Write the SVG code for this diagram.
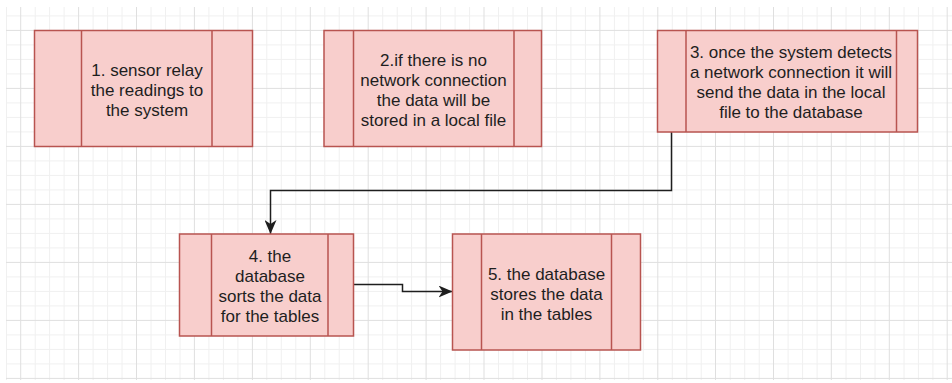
<svg xmlns="http://www.w3.org/2000/svg" width="952" height="383" viewBox="0 0 952 383">
  <style>
    .minor { stroke: #f0f0f0; stroke-width: 1; fill: none; }
    .major { stroke: #dfdfdf; stroke-width: 1; fill: none; }
    .proc { fill: #f8cecc; stroke: #b85450; stroke-width: 1.5; }
    .bar { stroke: #b85450; stroke-width: 1.5; fill: none; }
    .label { font-family: "Liberation Sans", Arial, sans-serif; font-size: 17px; fill: #1e1e1e; text-anchor: middle; }
    .edge { stroke: #1e1e1e; stroke-width: 1.5; fill: none; }
  </style>
  <defs>
    <clipPath id="gridArea">
      <rect x="6" y="7" width="946" height="373"/>
    </clipPath>
    <marker id="arrow" viewBox="0 0 14 12" refX="14" refY="6" markerWidth="14" markerHeight="12" markerUnits="userSpaceOnUse" orient="auto">
      <path d="M0,0 L14,6 L0,12 L4,6 Z" fill="#1e1e1e"/>
    </marker>
  </defs>

  <rect width="952" height="383" fill="#ffffff"/>

  <!-- background grid -->
  <g id="grid" clip-path="url(#gridArea)">
    <path class="minor" d="M6.5 7V380M35.2 7V380M49.6 7V380M64.1 7V380M93.1 7V380M107.6 7V380M122 7V380M151 7V380M165.5 7V380M180 7V380M208.9 7V380M223.4 7V380M237.9 7V380M266.8 7V380M281.3 7V380M295.8 7V380M324.8 7V380M339.2 7V380M353.7 7V380M382.7 7V380M397.2 7V380M411.6 7V380M440.6 7V380M455.1 7V380M469.6 7V380M498.5 7V380M513 7V380M527.5 7V380M556.4 7V380M570.9 7V380M585.4 7V380M614.4 7V380M628.8 7V380M643.3 7V380M672.3 7V380M686.8 7V380M701.2 7V380M730.2 7V380M744.7 7V380M759.2 7V380M788.1 7V380M802.6 7V380M817.1 7V380M846 7V380M860.5 7V380M875 7V380M904 7V380M918.4 7V380M932.9 7V380
      M6 15.9H952M6 44.9H952M6 59.4H952M6 73.9H952M6 102.9H952M6 117.4H952M6 131.9H952M6 160.9H952M6 175.4H952M6 189.9H952M6 218.9H952M6 233.4H952M6 247.9H952M6 276.9H952M6 291.4H952M6 305.9H952M6 334.9H952M6 349.4H952M6 363.9H952"/>
    <path class="major" d="M20.7 7V380M78.6 7V380M136.5 7V380M194.4 7V380M252.4 7V380M310.3 7V380M368.2 7V380M426.1 7V380M484 7V380M542 7V380M599.9 7V380M657.8 7V380M715.5 7V380M773.5 7V380M831.3 7V380M889.3 7V380M947.2 7V380
      M6 30.4H952M6 88.4H952M6 146.4H952M6 204.4H952M6 262.4H952M6 320.4H952M6 378.4H952"/>
  </g>

  <!-- connectors -->
  <g id="connectors">
    <path class="edge" d="M671.5 132V190.5H270.5V234" marker-end="url(#arrow)"/>
    <path class="edge" d="M353.5 284.5H402.5V291.5H452.5" marker-end="url(#arrow)"/>
  </g>

  <!-- process nodes -->
  <g id="node1">
    <rect class="proc" x="34.5" y="30.5" width="218" height="116"/>
    <path class="bar" d="M81.5 30.5V146.5M212 30.5V146.5"/>
    <text class="label" x="147" y="76">1. sensor relay</text>
    <text class="label" x="147" y="96">the readings to</text>
    <text class="label" x="147" y="116">the system</text>
  </g>

  <g id="node2">
    <rect class="proc" x="324" y="30.5" width="217.5" height="116"/>
    <path class="bar" d="M353.5 30.5V146.5M514 30.5V146.5"/>
    <text class="label" x="433.5" y="66">2.if there is no</text>
    <text class="label" x="433.5" y="86">network connection</text>
    <text class="label" x="433.5" y="106">the data will be</text>
    <text class="label" x="433.5" y="126">stored in a local file</text>
  </g>

  <g id="node3">
    <rect class="proc" x="657.5" y="30.5" width="260" height="101.5"/>
    <path class="bar" d="M686 30.5V132M896.5 30.5V132"/>
    <text class="label" x="791" y="58">3. once the system detects</text>
    <text class="label" x="791" y="78">a network connection it will</text>
    <text class="label" x="791" y="98">send the data in the local</text>
    <text class="label" x="791" y="118">file to the database</text>
  </g>

  <g id="node4">
    <rect class="proc" x="179.5" y="234" width="174" height="102"/>
    <path class="bar" d="M211.5 234V336M328 234V336"/>
    <text class="label" x="270" y="261.5">4. the</text>
    <text class="label" x="270" y="281.5">database</text>
    <text class="label" x="270" y="301.5">sorts the data</text>
    <text class="label" x="270" y="321.5">for the tables</text>
  </g>

  <g id="node5">
    <rect class="proc" x="452.5" y="234" width="188" height="116"/>
    <path class="bar" d="M481.5 234V350M611.5 234V350"/>
    <text class="label" x="546.5" y="279.5">5. the database</text>
    <text class="label" x="546.5" y="299.5">stores the data</text>
    <text class="label" x="546.5" y="319.5">in the tables</text>
  </g>
</svg>
